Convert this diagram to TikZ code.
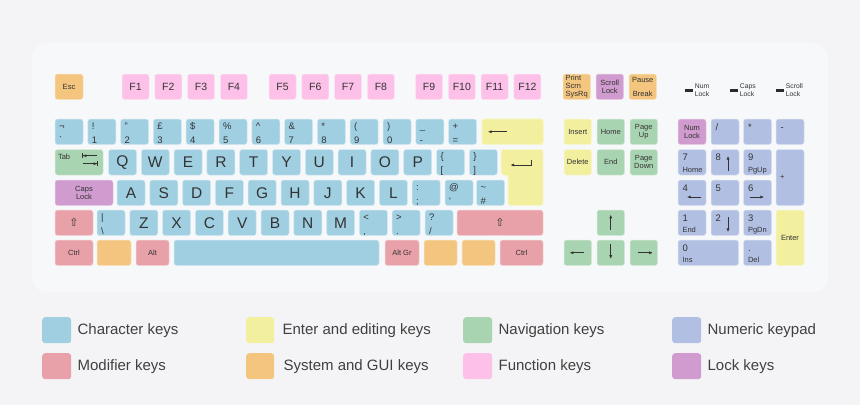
\documentclass[tikz,border=0pt]{standalone}
\usepackage{fontspec}
\setmainfont{Liberation Sans}
\newfontfamily\arrowfont{DejaVu Sans}
\usetikzlibrary{positioning,arrows.meta}

\definecolor{bgcol}{HTML}{F4F4F6}
\definecolor{panelcol}{HTML}{F7F8FA}
\definecolor{keytext}{HTML}{333333}
\definecolor{legtext}{HTML}{404040}
\definecolor{charcol}{HTML}{A0CFE2}
\definecolor{editcol}{HTML}{F2EF9E}
\definecolor{navcol}{HTML}{A9D4B2}
\definecolor{numcol}{HTML}{B1BFE2}
\definecolor{modcol}{HTML}{E8A1A8}
\definecolor{syscol}{HTML}{F3C57F}
\definecolor{fncol}{HTML}{FDC0E8}
\definecolor{lockcol}{HTML}{D09BCE}

\tikzset{
  key/.style={rectangle, rounded corners=2.5pt, line width=0.5pt, anchor=north west,
    inner sep=0pt, outer sep=0pt, minimum width=28pt, minimum height=25.5pt,
    text=keytext, align=center, font=\fontsize{7.5}{8}\selectfont},
  charkey/.style={key, fill=charcol, draw=charcol!45!white},
  editkey/.style={key, fill=editcol, draw=editcol!45!white},
  navkey/.style={key, fill=navcol, draw=navcol!45!white},
  numkey/.style={key, fill=numcol, draw=numcol!45!white},
  modkey/.style={key, fill=modcol, draw=modcol!45!white},
  syskey/.style={key, fill=syscol, draw=syscol!45!white},
  fnkey/.style={key, fill=fncol, draw=fncol!45!white, minimum width=27pt},
  lockkey/.style={key, fill=lockcol, draw=lockcol!45!white},
  bigtxt/.style={font=\fontsize{15.5}{16}\selectfont},
  fntxt/.style={font=\fontsize{10.5}{12}\selectfont},
  shifttxt/.style={font=\arrowfont\fontsize{11}{12}\selectfont},
  keysub/.style={inner sep=0pt, outer sep=0pt, text=keytext, font=\fontsize{9.5}{11}\selectfont},
  keysmall/.style={inner sep=0pt, outer sep=0pt, text=keytext, font=\fontsize{7.5}{8}\selectfont},
  keyarrow/.style={-{Latex[length=3.6pt,width=3.2pt]}, line width=0.8pt, draw=keytext},
  tabarrow/.style={-{Latex[length=3.6pt,width=3.2pt]Bar[width=5pt,line width=0.8pt]}, line width=0.8pt, draw=keytext},
  led/.style={rectangle, fill=keytext!85!black, inner sep=0pt, minimum width=8pt, minimum height=3.5pt},
  ledtxt/.style={inner sep=0pt, text=keytext, align=left, font=\fontsize{6.8}{8}\selectfont},
  legsw/.style={rectangle, rounded corners=3pt, anchor=north west, minimum width=29pt, minimum height=26pt, inner sep=0pt},
  legtxt/.style={inner sep=0pt, text=legtext, font=\fontsize{15}{17}\selectfont},
}

% key with an upper and a lower label (main block)
\newcommand\duokey[6]{%
  \node[#1] (#2) at ({#3},{#4}) {};
  \node[keysub, anchor=base west] (#2u) at ([shift={(4pt,-10pt)}]#2.north west) {#5};
  \node[keysub, anchor=base west] (#2l) at ([shift={(4pt,-24pt)}]#2.north west) {#6};}
% keypad keys
\newcommand\padkey[6]{%
  \node[#1] (#2) at ({#3},{#4}) {};
  \node[keysub, anchor=base west] (#2u) at ([shift={(4.5pt,-11pt)}]#2.north west) {#5};
  \node[keysmall, anchor=base west] (#2l) at ([shift={(4.5pt,-22.5pt)}]#2.north west) {#6};}
\newcommand\padone[5]{%
  \node[#1] (#2) at ({#3},{#4}) {};
  \node[keysub, anchor=base west] (#2u) at ([shift={(4.5pt,-11pt)}]#2.north west) {#5};}

\begin{document}
\begin{tikzpicture}[x=1pt,y=-1pt]
\useasboundingbox (0,0) rectangle (860,405);
\fill[bgcol] (0,0) rectangle (860,405);
\fill[panelcol, rounded corners=15pt] (32,43) rectangle (828,292);

% function row
\node[syskey] (esc) at (55,74) {Esc};
\foreach \i in {1,...,4} \node[fnkey, fntxt] (f\i) at ({89.2+32.8*\i},74) {F\i};
\foreach \i in {5,...,8} \node[fnkey, fntxt] (f\i) at ({105+32.8*\i},74) {F\i};
\foreach \i in {9,...,12} \node[fnkey, fntxt] (f\i) at ({120.3+32.8*\i},74) {F\i};

% number row
\foreach \i/\ka/\kb in {0/¬/\textasciigrave, 1/!/1, 2/"/2, 3/£/3, 4/\$/4, 5/\%/5, 6/\^{}/6,
    7/\&/7, 8/*/8, 9/(/9, 10/)/0, 11/\_/-, 12/+/=}
  \duokey{charkey}{n\i}{55+32.8*\i}{119}{\ka}{\kb}
\node[editkey, minimum width=61pt] (bksp) at (482,119) {};
\draw[keyarrow] ([xshift=-5.5pt]bksp.center) -- ([xshift=-24.5pt]bksp.center);

% top letter row
\node[navkey, minimum width=48pt] (tab) at (55,149.5) {};
\node[keysmall, anchor=base west] (tabtxt) at ([shift={(3pt,-9.5pt)}]tab.north west) {Tab};
\draw[tabarrow] ([shift={(18pt,6.5pt)}]tab.center) -- ([shift={(3pt,6.5pt)}]tab.center);
\draw[tabarrow] ([shift={(4pt,-1.5pt)}]tab.center) -- ([shift={(19pt,-1.5pt)}]tab.center);
\foreach \i/\ch in {0/Q,1/W,2/E,3/R,4/T,5/Y,6/U,7/I,8/O,9/P}
  \node[charkey, bigtxt] (q\i) at ({108.5+32.8*\i},149.5) {\ch};
\duokey{charkey}{q10}{436.5}{149.5}{\{}{[}
\duokey{charkey}{q11}{469.3}{149.5}{\}}{]}
\filldraw[fill=editcol, draw=editcol!45!white, line width=0.5pt, rounded corners=2.5pt]
  (501,149.5) -- (543,149.5) -- (543,205.5) -- (508,205.5) -- (508,175) -- (501,175) -- cycle;
\draw[keyarrow] (531,159.5) -- (531,165) -- (510.5,165);

% home row
\node[lockkey, minimum width=58pt] (caps) at (55,180) {Caps\\Lock};
\foreach \i/\ch in {0/A,1/S,2/D,3/F,4/G,5/H,6/J,7/K,8/L}
  \node[charkey, bigtxt] (a\i) at ({117+32.8*\i},180) {\ch};
\duokey{charkey}{a9}{412.2}{180}{:}{;}
\duokey{charkey}{a10}{445}{180}{@}{\textquotesingle}
\duokey{charkey}{a11}{476.5}{180}{\textasciitilde}{\#}

% bottom letter row
\node[modkey, shifttxt, minimum width=38pt] (lshift) at (55,210) {⇧};
\duokey{charkey}{z0}{97}{210}{|}{\textbackslash}
\foreach \i/\ch in {1/Z,2/X,3/C,4/V,5/B,6/N,7/M}
  \node[charkey, bigtxt] (z\i) at ({97+32.8*\i},210) {\ch};
\duokey{charkey}{z8}{359.4}{210}{<}{,}
\duokey{charkey}{z9}{392.2}{210}{>}{.}
\duokey{charkey}{z10}{425}{210}{?}{/}
\node[modkey, shifttxt, minimum width=86pt] (rshift) at (457,210) {⇧};

% space row
\node[modkey, minimum width=38pt] (lctrl) at (55,240) {Ctrl};
\node[syskey, minimum width=34pt] (lwin) at (97,240) {};
\node[modkey, minimum width=33pt] (lalt) at (136,240) {Alt};
\node[charkey, minimum width=205pt] (space) at (174,240) {};
\node[modkey, minimum width=34pt] (altgr) at (385,240) {Alt Gr};
\node[syskey, minimum width=33pt] (rwin) at (424,240) {};
\node[syskey, minimum width=33pt] (menu) at (462,240) {};
\node[modkey, minimum width=43pt] (rctrl) at (500,240) {Ctrl};

% navigation block
\node[syskey, minimum width=27.5pt, align=left] (prt) at (563,74) {Print\\Scrn\\SysRq};
\node[lockkey, minimum width=27.5pt] (scrl) at (596,74) {Scroll\\Lock};
\node[syskey, minimum width=27.5pt] (pause) at (629,74) {Pause\\[6pt]Break};
\node[editkey, minimum width=27.5pt] (ins) at (564,119) {Insert};
\node[navkey, minimum width=27.5pt] (home) at (597,119) {Home};
\node[navkey, minimum width=27.5pt] (pgup) at (630,119) {Page\\Up};
\node[editkey, minimum width=27.5pt] (del) at (564,149.5) {Delete};
\node[navkey, minimum width=27.5pt] (end) at (597,149.5) {End};
\node[navkey, minimum width=27.5pt] (pgdn) at (630,149.5) {Page\\Down};
\node[navkey, minimum width=27.5pt] (up) at (597,210) {};
\node[navkey, minimum width=27.5pt] (left) at (564,240) {};
\node[navkey, minimum width=27.5pt] (down) at (597,240) {};
\node[navkey, minimum width=27.5pt] (right) at (630,240) {};
\draw[keyarrow] ([yshift=-7pt]up.center) -- ([yshift=8pt]up.center);
\draw[keyarrow] ([xshift=6.5pt]left.center) -- ([xshift=-8pt]left.center);
\draw[keyarrow] ([yshift=9pt]down.center) -- ([yshift=-6pt]down.center);
\draw[keyarrow] ([xshift=-6pt]right.center) -- ([xshift=9pt]right.center);

% indicator lights
\node[led] (ledn) at (689,90.5) {};
\node[ledtxt, right=1.5pt of ledn] (ledntxt) {Num\\Lock};
\node[led] (ledc) at (734,90.5) {};
\node[ledtxt, right=1.5pt of ledc] (ledctxt) {Caps\\Lock};
\node[led] (leds) at (780,90.5) {};
\node[ledtxt, right=1.5pt of leds] (ledstxt) {Scroll\\Lock};

% numeric keypad
\node[lockkey] (numl) at (678,119) {Num\\Lock};
\padone{numkey}{pdiv}{711}{119}{/}
\padone{numkey}{pmul}{743.5}{119}{*}
\padone{numkey}{psub}{776}{119}{-}
\padkey{numkey}{p7}{678}{149.5}{7}{Home}
\padone{numkey}{p8}{711}{149.5}{8}
\padkey{numkey}{p9}{743.5}{149.5}{9}{PgUp}
\node[numkey, minimum height=56pt] (padd) at (776,149.5) {};
\node[keysmall, anchor=west] (paddtxt) at ([xshift=4pt]padd.west) {+};
\padone{numkey}{p4}{678}{180}{4}
\padone{numkey}{p5}{711}{180}{5}
\padone{numkey}{p6}{743.5}{180}{6}
\padkey{numkey}{p1}{678}{210}{1}{End}
\padone{numkey}{p2}{711}{210}{2}
\padkey{numkey}{p3}{743.5}{210}{3}{PgDn}
\node[editkey, minimum height=55.5pt] (pent) at (776,210) {Enter};
\padkey{numkey, minimum width=60.5pt}{p0}{678}{240}{0}{Ins}
\padkey{numkey}{pdot}{743.5}{240}{.}{Del}
\draw[keyarrow] ([shift={(17pt,-21.5pt)}]p8.north west) -- ([shift={(17pt,-6.5pt)}]p8.north west);
\draw[keyarrow] ([shift={(23pt,-17pt)}]p4.north west) -- ([shift={(9pt,-17pt)}]p4.north west);
\draw[keyarrow] ([shift={(6.5pt,-17pt)}]p6.north west) -- ([shift={(20.5pt,-17pt)}]p6.north west);
\draw[keyarrow] ([shift={(17pt,-7pt)}]p2.north west) -- ([shift={(17pt,-22pt)}]p2.north west);

% legend
\node[legsw, fill=charcol] (lgchar) at (42,317) {};
\node[legtxt, right=6pt of lgchar] (lgchartxt) {Character keys};
\node[legsw, fill=modcol] (lgmod) at (42,353) {};
\node[legtxt, right=6pt of lgmod] (lgmodtxt) {Modifier keys};
\node[legsw, fill=editcol, minimum width=28pt] (lgedit) at (246,317) {};
\node[legtxt, right=8pt of lgedit] (lgedittxt) {Enter and editing keys};
\node[legsw, fill=syscol, minimum width=28pt] (lgsys) at (246,353) {};
\node[legtxt, right=9pt of lgsys] (lgsystxt) {System and GUI keys};
\node[legsw, fill=navcol] (lgnav) at (463,317) {};
\node[legtxt, right=6pt of lgnav] (lgnavtxt) {Navigation keys};
\node[legsw, fill=fncol] (lgfn) at (463,353) {};
\node[legtxt, right=6pt of lgfn] (lgfntxt) {Function keys};
\node[legsw, fill=numcol] (lgnum) at (672,317) {};
\node[legtxt, right=6pt of lgnum] (lgnumtxt) {Numeric keypad};
\node[legsw, fill=lockcol] (lglock) at (672,353) {};
\node[legtxt, right=6pt of lglock] (lglocktxt) {Lock keys};
\end{tikzpicture}
\end{document}
